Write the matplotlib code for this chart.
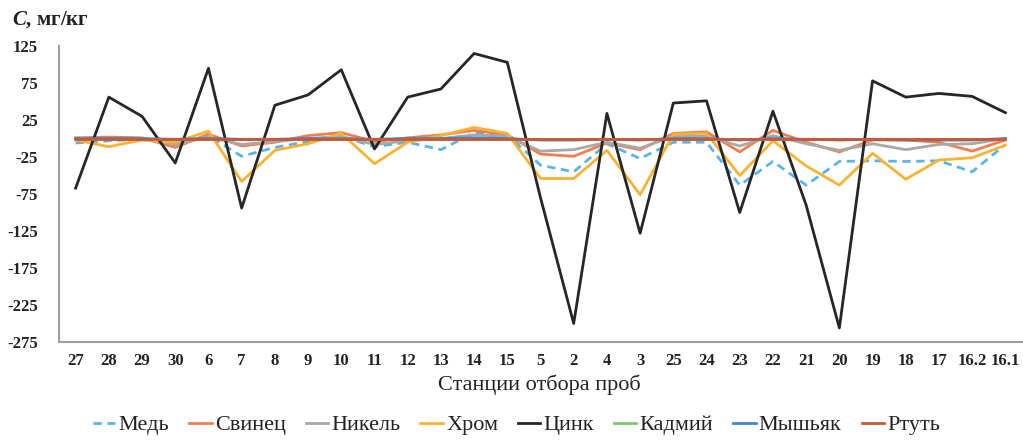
import matplotlib
matplotlib.use('Agg')
import matplotlib.pyplot as plt

# station order along the x axis
stations = ['27', '28', '29', '30', '6', '7', '8', '9', '10', '11', '12', '13', '14', '15',
            '5', '2', '4', '3', '25', '24', '23', '22', '21', '20', '19', '18', '17', '16.2', '16.1']

copper = [-6, -3, -1, -8, 4, -24, -12, -4, 3, -11, -5, -15, 8, 5,
          -36, -45, -7, -27, -5, -5, -63, -31, -63, -31, -30, -31, -30, -45, -8]
lead = [1, 2, 1, -12, 6, -10, -5, 4, 8, -4, 1, 5, 11, 5,
        -21, -24, -6, -15, 7, 9, -18, 11, -5, -18, -2, -2, -5, -17, -2]
nickel = [-2, -1, 0, -8, 2, -8, -4, 0, 3, -8, -3, 0, 5, 3,
          -17, -15, -5, -13, 3, 3, -10, 4, -7, -16, -7, -15, -8, -7, 0]
chrome = [-2, -11, -2, -5, 10, -58, -16, -7, 7, -34, -5, 4, 15, 7,
          -54, -54, -16, -76, 6, 7, -50, -3, -37, -63, -20, -55, -29, -26, -9]
zinc = [-67, 56, 30, -33, 95, -94, 45, 59, 93, -14, 56, 67, 115, 103,
        -80, -250, 34, -128, 48, 51, -100, 37, -90, -256, 78, 56, 61, 57, 35]
cadmium = [0, 0, 0, 0, 0, 0, 0, 0, 0, 0, 0, 0, 0, 0,
           0, 0, 0, 0, 0, 0, 0, 0, 0, 0, 0, 0, 0, 0, 0]
arsenic = [0, 0, 0, -1, 0, -1, -1, 0, 0, -1, 0, 0, 1, 0,
           -2, -2, -1, -2, 0, 0, -2, 0, -1, -2, -1, -2, -2, -2, 0]
mercury = [0, 0, 0, 0, 0, 0, 0, 0, 0, 0, 0, 0, 0, 0,
           0, 0, 0, 0, 0, 0, 0, 0, 0, 0, 0, 0, 0, 0, 0]

yticks = [125, 75, 25, -25, -75, -125, -175, -225, -275]

plt.rcParams['font.family'] = ['Liberation Serif', 'DejaVu Serif']
plt.rcParams['axes.unicode_minus'] = False
plt.rcParams['mathtext.fontset'] = 'custom'
plt.rcParams['mathtext.it'] = 'Liberation Serif:italic:bold'
plt.rcParams['mathtext.rm'] = 'Liberation Serif:bold'

fig = plt.figure(figsize=(10.23, 4.41), dpi=100)
ax = fig.add_axes([0.0577, 0.2245, 0.9413, 0.671])

x = list(range(len(stations)))
lw = 2.0
ax.plot(x, copper, color='#5BB4E5', lw=lw, ls=(0, (3, 2)), label='Медь')
ax.plot(x, lead, color='#F07E52', lw=lw, label='Свинец')
ax.plot(x, nickel, color='#A8A8A8', lw=lw, label='Никель')
ax.plot(x, chrome, color='#F9B334', lw=lw, label='Хром')
ax.plot(x, zinc, color='#262626', lw=lw, label='Цинк')
ax.plot(x, cadmium, color='#7CC870', lw=lw, label='Кадмий')
ax.plot(x, arsenic, color='#3F87C6', lw=lw, label='Мышьяк')
ax.plot(x, mercury, color='#C8583A', lw=lw, label='Ртуть')

ax.set_xlim(-0.5, len(stations) - 0.5)
ax.set_ylim(-275, 125)
ax.set_yticks(yticks)
ax.set_xticks(x)
ax.set_xticklabels(stations)
ax.tick_params(axis='both', length=0, labelsize=12, colors='#222222')
ax.tick_params(axis='y', pad=15)
ax.tick_params(axis='x', pad=8)
for lab in ax.get_xticklabels() + ax.get_yticklabels():
    lab.set_fontweight('bold')

for s in ['top', 'right']:
    ax.spines[s].set_visible(False)
for s in ['left', 'bottom']:
    ax.spines[s].set_color('#A0A0A0')
    ax.spines[s].set_linewidth(1.5)

fig.text(0.012, 0.955, '$C$, мг/кг', fontsize=15, fontweight='bold',
         va='center', ha='left', color='#222222')
fig.text(0.527, 0.128, 'Станции отбора проб', fontsize=16, ha='center', va='center',
         color='#222222')

fig.legend(loc='center', bbox_to_anchor=(0.505, 0.036), ncol=8, frameon=False,
           fontsize=16, handlelength=1.0, handletextpad=0.15, columnspacing=0.9,
           labelcolor='#222222')

fig.savefig('out.png', dpi=100)
